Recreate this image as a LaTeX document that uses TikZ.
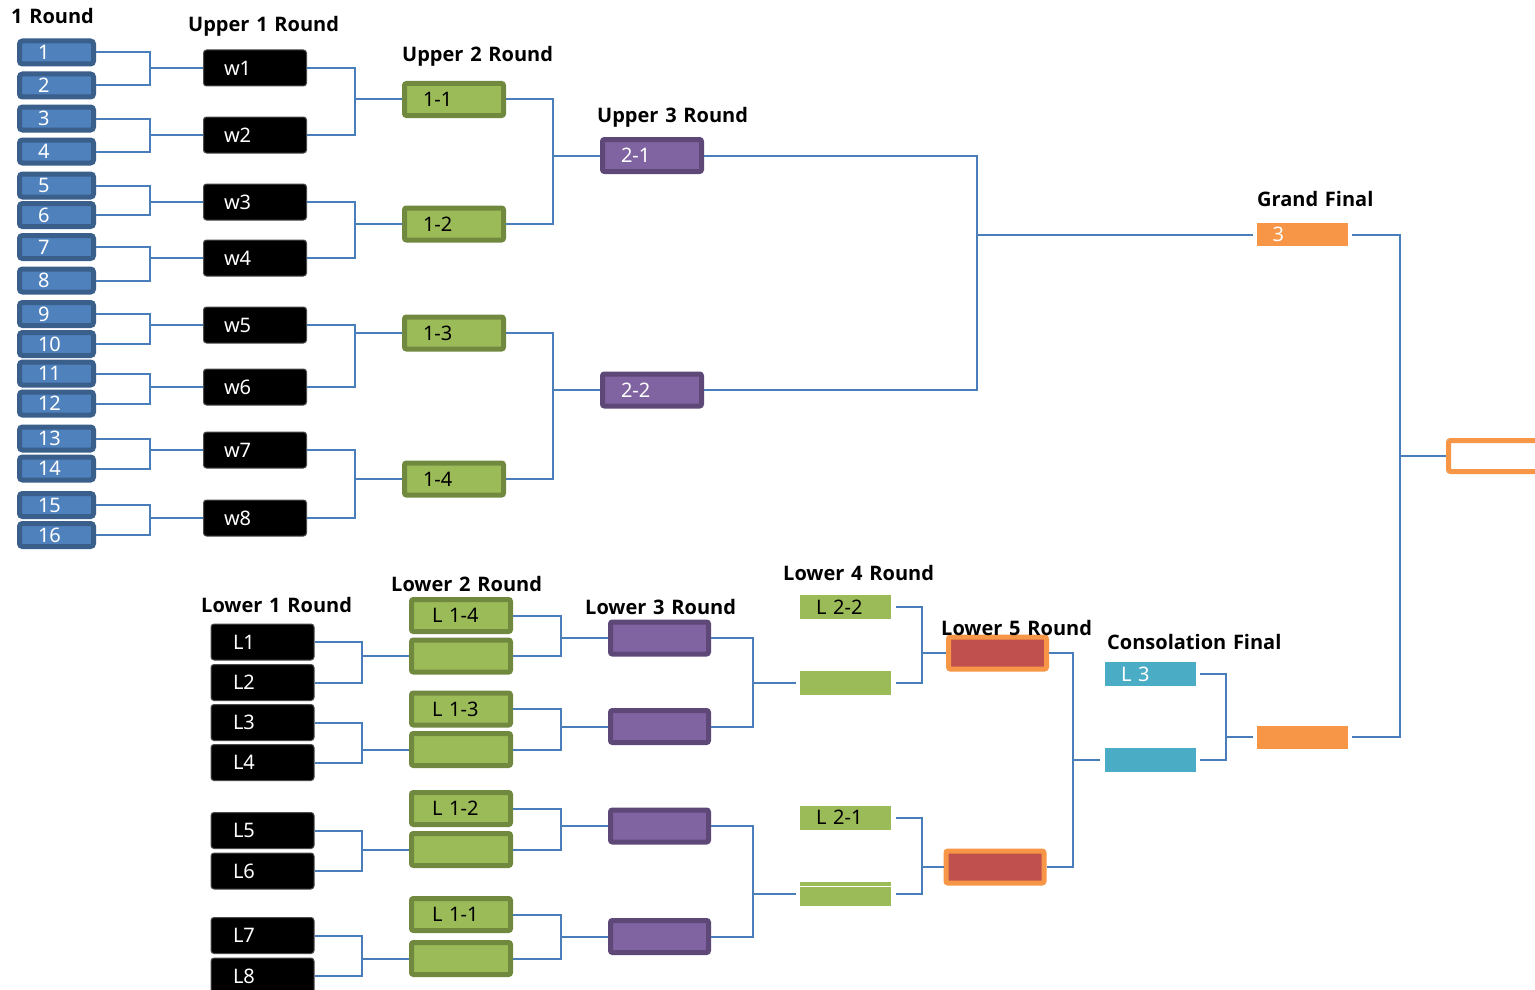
\documentclass[tikz,border=0pt]{standalone}
\usepackage{fontspec}
\setmainfont{Noto Sans}[WordSpace=1.4]
\newfontfamily\myttlfam{Open Sans}[WordSpace=1.3]
\usetikzlibrary{calc}
\definecolor{lnc}{HTML}{4A7EBB}
\definecolor{bfill}{HTML}{4F81BD}
\definecolor{bdraw}{HTML}{3A5F8B}
\definecolor{gfill}{HTML}{9BBB59}
\definecolor{gdraw}{HTML}{71893F}
\definecolor{pfill}{HTML}{8064A2}
\definecolor{pdraw}{HTML}{5E4878}
\definecolor{rfill}{HTML}{C0504D}
\definecolor{ofill}{HTML}{F79646}
\definecolor{cfill}{HTML}{4BACC6}
\newcommand{\mybxfont}{\fontsize{20}{24}\selectfont}
\newcommand{\myttfont}{\myttlfam\bfseries\fontsize{20}{24}\selectfont}
\tikzset{
  ln/.style={draw=lnc, line width=2pt},
  bx/.style={rectangle, inner ysep=0pt, align=left, font=\mybxfont},
  rbox/.style={bx, fill=bfill, draw=bdraw, line width=5pt, rounded corners=3pt, minimum height=23pt, text width=37pt, inner xsep=18.5pt, text=white},
  wbox/.style={bx, fill=black, draw=black!70, line width=1pt, rounded corners=3pt, minimum height=36pt, text width=62pt, inner xsep=20.5pt, text=white},
  lbox/.style={bx, fill=black, draw=black!70, line width=1pt, rounded corners=3pt, minimum height=36pt, text width=59pt, inner xsep=22pt, text=white},
  ugbox/.style={bx, fill=gfill, draw=gdraw, line width=5pt, rounded corners=2pt, minimum height=32pt, text width=62pt, inner xsep=18.5pt, text=black},
  upbox/.style={bx, fill=pfill, draw=pdraw, line width=5pt, rounded corners=2pt, minimum height=32pt, text width=62pt, inner xsep=18.5pt, text=white},
  lgbox/.style={bx, fill=gfill, draw=gdraw, line width=5pt, rounded corners=2pt, minimum height=32pt, text width=58pt, inner xsep=20.5pt, text=black},
  lpbox/.style={bx, fill=pfill, draw=pdraw, line width=5pt, rounded corners=2pt, minimum height=32pt, text width=58pt, inner xsep=20pt},
  fgbox/.style={bx, fill=gfill, minimum height=24pt, text width=59pt, inner xsep=16pt, text=black},
  rdbox/.style={bx, fill=rfill, draw=ofill, line width=5pt, rounded corners=2pt, minimum height=32pt, text width=58pt, inner xsep=20pt},
  cybox/.style={bx, fill=cfill, minimum height=24pt, text width=59pt, inner xsep=16pt, text=white},
  orbox/.style={bx, fill=ofill, minimum height=23pt, text width=60pt, inner xsep=15.5pt, text=white},
  finbox/.style={bx, fill=white, draw=ofill, line width=5pt, rounded corners=2pt, minimum height=31pt, text width=59pt, inner xsep=20pt},
  ttl/.style={anchor=base west, inner sep=0pt, font=\myttfont, text=black},
}
\begin{document}
\begin{tikzpicture}[x=1pt,y=-1pt]
\useasboundingbox (0,0) rectangle (1535,990);
\clip (0,0) rectangle (1535,990);
\fill[white] (0,0) rectangle (1535,990);
% junction coordinates
\coordinate (j1) at (150,0);
\coordinate (j2) at (355,0);
\coordinate (j3) at (553,0);
\coordinate (j4) at (977,0);
\coordinate (j5) at (1400,0);
\coordinate (k1) at (362,0);
\coordinate (k2) at (561,0);
\coordinate (k3) at (753,0);
\coordinate (k4) at (922,0);
\coordinate (k5) at (1073,0);
\coordinate (k6) at (1226,0);
% round 1
\foreach \n/\y in {1/52.5,2/85.5,3/118.5,4/151.5,5/185.5,6/215,7/247,8/280.5,9/314,10/344,11/373.5,12/403.5,13/438.5,14/468.5,15/505,16/535}
  \node[rbox] (r\n) at (56.5,\y) {\n};
% upper 1
\foreach \n/\y in {1/68,2/135,3/202,4/258,5/325,6/387,7/450,8/518}
  \node[wbox] (w\n) at (255,\y) {w\n};
% upper 2
\node[ugbox] (g1) at (454,99.5) {1-1};
\node[ugbox] (g2) at (454,224) {1-2};
\node[ugbox] (g3) at (454,333) {1-3};
\node[ugbox] (g4) at (454,479) {1-4};
% upper 3
\node[upbox] (p1) at (652,155.5) {2-1};
\node[upbox] (p2) at (652,390) {2-2};
% grand final
\node[orbox] (gf) at (1302.5,234.5) {3};
\node[finbox] (fin) at (1498,456) {};
% lower 1
\foreach \n/\y in {1/642,2/682.5,3/722.5,4/762.5,5/830.5,6/871,7/935.5,8/976}
  \node[lbox] (l\n) at (262.5,\y) {L\n};
% lower 2
\node[lgbox] (la1) at (461,615.5) {L 1-4};
\node[lgbox] (la2) at (461,656) {};
\node[lgbox] (la3) at (461,709) {L 1-3};
\node[lgbox] (la4) at (461,749.5) {};
\node[lgbox] (la5) at (461,808.5) {L 1-2};
\node[lgbox] (la6) at (461,849.5) {};
\node[lgbox] (la7) at (461,914.5) {L 1-1};
\node[lgbox] (la8) at (461,958.5) {};
% lower 3
\node[lpbox] (lp1) at (659.5,638) {};
\node[lpbox] (lp2) at (659.5,726.5) {};
\node[lpbox] (lp3) at (659.5,826) {};
\node[lpbox] (lp4) at (659.5,936.5) {};
% lower 4
\node[fgbox] (f1) at (845.5,607) {L 2-2};
\node[fgbox] (f2) at (845.5,683) {};
\node[fgbox] (f3) at (845.5,817.5) {L 2-1};
\node[fgbox] (f4) at (845.5,894) {};
\draw[white, line width=1.2pt] ([yshift=-4.5pt]f4.north west) -- ([yshift=-4.5pt]f4.north east);
% lower 5
\node[rdbox] (rd1) at (997.5,653) {};
\node[rdbox] (rd2) at (995,867) {};
% consolation
\node[cybox] (c1) at (1150.5,674) {L 3};
\node[cybox] (c2) at (1150.5,760) {};
\node[orbox] (ob) at (1302.5,737) {};
% connectors upper
\foreach \a/\b in {1/1,2/1,3/2,4/2,5/3,6/3,7/4,8/4,9/5,10/5,11/6,12/6,13/7,14/7,15/8,16/8}
  \draw[ln] (r\a.east) -- (r\a.east -| j1) |- (w\b.west);
\foreach \a/\b in {1/1,2/1,3/2,4/2,5/3,6/3,7/4,8/4}
  \draw[ln] (w\a.east) -- (w\a.east -| j2) |- (g\b.west);
\foreach \a/\b in {1/1,2/1,3/2,4/2}
  \draw[ln] (g\a.east) -- (g\a.east -| j3) |- (p\b.west);
\foreach \a in {1,2}
  \draw[ln, shorten >=4pt] (p\a.east) -- (p\a.east -| j4) |- (gf.west);
\draw[ln, shorten <=4pt] (gf.east) -- (gf.east -| j5) |- (fin.west);
\draw[ln, shorten <=4pt] (ob.east) -- (ob.east -| j5) |- (fin.west);
% connectors lower
\foreach \a/\b in {1/2,2/2,3/4,4/4,5/6,6/6,7/8,8/8}
  \draw[ln] (l\a.east) -- (l\a.east -| k1) |- (la\b.west);
\foreach \a/\b in {1/1,2/1,3/2,4/2,5/3,6/3,7/4,8/4}
  \draw[ln] (la\a.east) -- (la\a.east -| k2) |- (lp\b.west);
\foreach \a/\b in {1/2,2/2,3/4,4/4}
  \draw[ln, shorten >=4pt] (lp\a.east) -- (lp\a.east -| k3) |- (f\b.west);
\foreach \a/\b in {1/1,2/1,3/2,4/2}
  \draw[ln, shorten <=5pt] (f\a.east) -- (f\a.east -| k4) |- (rd\b.west);
\foreach \a in {1,2}
  \draw[ln, shorten >=5pt] (rd\a.east) -- (rd\a.east -| k5) |- (c2.west);
\foreach \a in {1,2}
  \draw[ln, shorten <=4pt, shorten >=4pt] (c\a.east) -- (c\a.east -| k6) |- (ob.west);
% titles
\node[ttl] (t1) at (11,24) {1 Round};
\node[ttl] (t2) at (188,32) {Upper 1 Round};
\node[ttl] (t3) at (402,62) {Upper 2 Round};
\node[ttl] (t4) at (597,122) {Upper 3 Round};
\node[ttl] (t5) at (1257,206) {Grand Final};
\node[ttl] (t6) at (201,612) {Lower 1 Round};
\node[ttl] (t7) at (391,591) {Lower 2 Round};
\node[ttl] (t8) at (585,614) {Lower 3 Round};
\node[ttl] (t9) at (783,580) {Lower 4 Round};
\node[ttl] (t10) at (941,635) {Lower 5 Round};
\node[ttl] (t11) at (1107,649) {Consolation Final};
\end{tikzpicture}
\end{document}
